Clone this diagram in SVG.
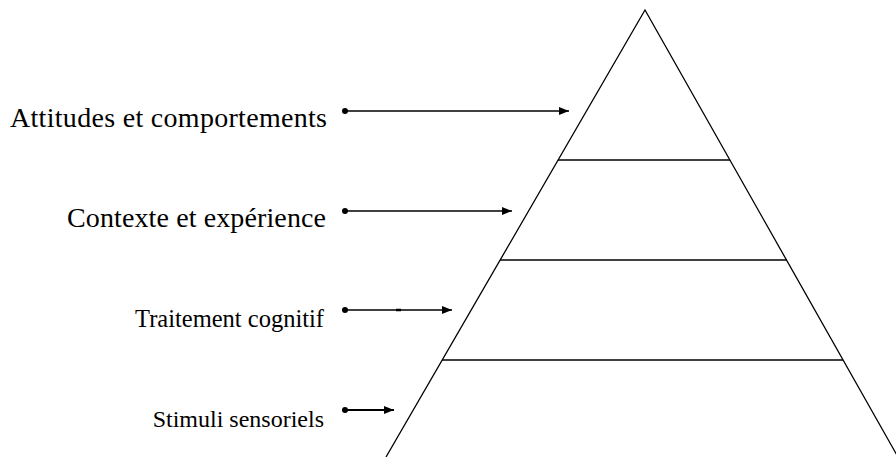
<svg xmlns="http://www.w3.org/2000/svg" width="896" height="457" viewBox="0 0 896 457">
<defs>
<marker id="ah" viewBox="0 0 10 10" refX="10" refY="5" markerWidth="10" markerHeight="10" markerUnits="userSpaceOnUse" orient="auto"><path d="M0,1 L10,5 L0,9 Z" fill="#000"/></marker>
<marker id="dot" viewBox="0 0 6 6" refX="3" refY="3" markerWidth="6" markerHeight="6" markerUnits="userSpaceOnUse"><circle cx="3" cy="3" r="3" fill="#000"/></marker>
</defs>
<style>
.lbl{font-family:"Liberation Serif","Times New Roman",serif;fill:#000}
.big{font-size:28px}
.small{font-size:24.5px;text-anchor:end}
.py{fill:none;stroke:#000;stroke-width:1.3}
.ar{stroke:#000;stroke-width:1.3;fill:none;marker-start:url(#dot);marker-end:url(#ah)}
</style>
<rect width="896" height="457" fill="#fff"/>
<g id="pyramid">
<path class="py" d="M386,457 L645,10 L898,457"/>
<line class="py" x1="558" y1="160" x2="730" y2="160"/>
<line class="py" x1="500" y1="260" x2="787" y2="260"/>
<line class="py" x1="442" y1="360" x2="843" y2="360"/>
</g>
<g id="label1"><text class="lbl big" x="10" y="127" textLength="317">Attitudes et comportements</text></g>
<g id="label2"><text class="lbl big" x="67" y="227" textLength="259">Contexte et expérience</text></g>
<g id="label3"><text class="lbl small" x="324" y="327">Traitement cognitif</text></g>
<g id="label4"><text class="lbl small" x="324" y="427" style="font-size:24px">Stimuli sensoriels</text></g>
<g id="connectors">
<line class="ar" x1="345" y1="111" x2="569" y2="111"/>
<line class="ar" x1="345" y1="211" x2="512" y2="211"/>
<line class="ar" x1="345" y1="310" x2="452" y2="310"/>
<line x1="396" y1="310" x2="401" y2="310" stroke="#000" stroke-width="2.5"/>
<line class="ar" x1="345" y1="410" x2="394" y2="410" style="stroke-width:2"/>
</g>
</svg>
